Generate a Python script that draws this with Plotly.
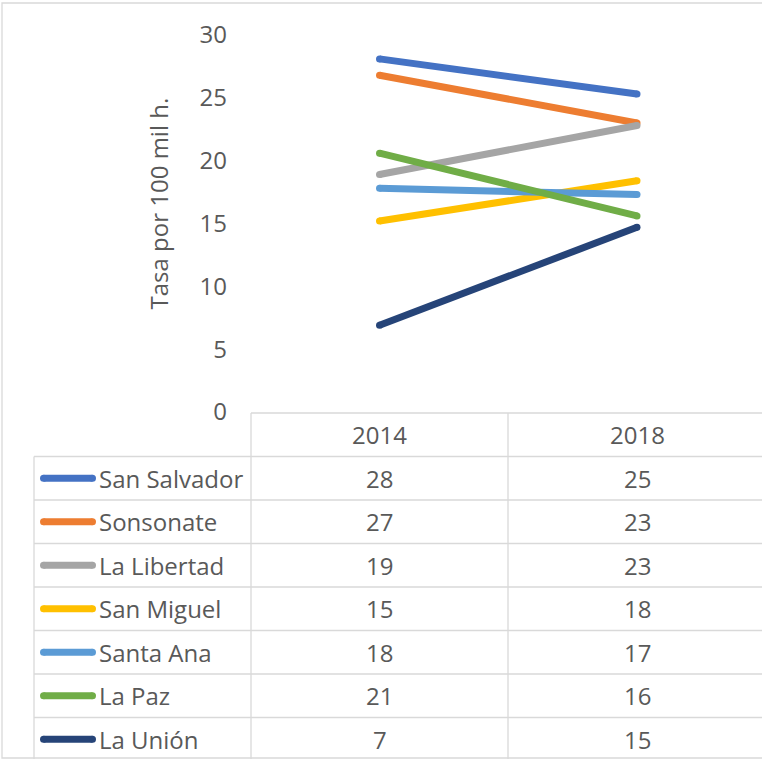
import plotly.graph_objects as go

# ---------------- data ----------------
years = ["2014", "2018"]
departments = ["San Salvador", "Sonsonate", "La Libertad", "San Miguel",
               "Santa Ana", "La Paz", "La Unión"]
rate_2014 = [28.1, 26.8, 18.9, 15.2, 17.8, 20.6, 6.9]
rate_2018 = [25.3, 23.0, 22.8, 18.4, 17.3, 15.6, 14.7]
colors = ["#4472C4", "#ED7D31", "#A5A5A5", "#FFC000", "#5B9BD5", "#70AD47", "#264478"]
y_ticks = [0, 5, 10, 15, 20, 25, 30]
y_title = "Tasa por 100 mil h."

# ---------------- layout constants (pixels) ----------------
W, H = 762, 759
FONT = "Open Sans"
TXT = "#595959"
GRID = "#D9D9D9"
FS = 24

plot_left, plot_top, plot_bottom = 251, 35, 412
col_div = 508
col_right = 766
table_top = 413
row_h = 43.5
table_left = 34
key_x0, key_x1, text_x = 40, 96, 97
LW = 7


def px(x):
    return x / W


def py(y):
    return 1 - y / H


fig = go.Figure()

for name, a, b, c in zip(departments, rate_2014, rate_2018, colors):
    fig.add_trace(go.Scatter(
        x=years, y=[a, b], name=name, mode="lines+markers",
        line=dict(color=c, width=LW),
        marker=dict(color=c, size=LW, line=dict(width=0)),
        showlegend=False, hoverinfo="skip",
    ))

shapes = []
annotations = []

# outer chart border
shapes.append(dict(type="rect", xref="paper", yref="paper",
                   x0=px(2), x1=px(W + 10), y0=py(3), y1=py(758),
                   line=dict(color=GRID, width=1.3)))

# table lines
n = len(departments)
row_lines = [table_top + row_h * (i + 1) for i in range(n + 1)]
shapes.append(dict(type="line", xref="paper", yref="paper",
                   x0=px(plot_left), x1=px(col_right + 10), y0=py(table_top), y1=py(table_top),
                   line=dict(color=GRID, width=1.3)))
for yl in row_lines:
    shapes.append(dict(type="line", xref="paper", yref="paper",
                       x0=px(table_left), x1=px(col_right + 10), y0=py(yl), y1=py(yl),
                       line=dict(color=GRID, width=1.3)))
for xl in (plot_left, col_div):
    shapes.append(dict(type="line", xref="paper", yref="paper",
                       x0=px(xl), x1=px(xl), y0=py(table_top), y1=py(row_lines[-1]),
                       line=dict(color=GRID, width=1.3)))
shapes.append(dict(type="line", xref="paper", yref="paper",
                   x0=px(table_left), x1=px(table_left), y0=py(row_lines[0]), y1=py(row_lines[-1]),
                   line=dict(color=GRID, width=1.3)))

# header texts
col_centers = [(plot_left + col_div) / 2, (col_div + col_right) / 2]
for yr, cx in zip(years, col_centers):
    annotations.append(dict(text=yr, x=px(cx), y=py(table_top + row_h / 2),
                            xref="paper", yref="paper", showarrow=False,
                            xanchor="center", yanchor="middle",
                            font=dict(family=FONT, size=FS, color=TXT)))

# rows
for i, (name, a, b, c) in enumerate(zip(departments, rate_2014, rate_2018, colors)):
    cy = row_lines[i] + row_h / 2
    shapes.append(dict(type="line", xref="paper", yref="paper",
                       x0=px(key_x0 + LW / 2), x1=px(key_x1 - LW / 2), y0=py(cy), y1=py(cy),
                       line=dict(color=c, width=LW)))
    for ex in (key_x0 + LW / 2, key_x1 - LW / 2):
        shapes.append(dict(type="circle", xref="paper", yref="paper",
                           x0=px(ex - LW / 2), x1=px(ex + LW / 2),
                           y0=py(cy - LW / 2), y1=py(cy + LW / 2),
                           fillcolor=c, line=dict(width=0)))
    annotations.append(dict(text=name, x=px(text_x), y=py(cy),
                            xref="paper", yref="paper", showarrow=False,
                            xanchor="left", yanchor="middle",
                            font=dict(family=FONT, size=FS, color=TXT)))
    for v, cx in zip((a, b), col_centers):
        annotations.append(dict(text=f"{v:.0f}", x=px(cx), y=py(cy),
                                xref="paper", yref="paper", showarrow=False,
                                xanchor="center", yanchor="middle",
                                font=dict(family=FONT, size=FS, color=TXT)))

# y-axis title
annotations.append(dict(text=y_title, x=px(158), y=py((97 + 310) / 2),
                        xref="paper", yref="paper", showarrow=False, textangle=-90,
                        xanchor="center", yanchor="middle",
                        font=dict(family=FONT, size=FS, color=TXT)))

cat_w = col_centers[1] - col_centers[0]
x0_range = (plot_left - col_centers[0]) / cat_w
x1_range = (W - col_centers[0]) / cat_w

fig.update_layout(
    width=W, height=H,
    margin=dict(l=0, r=0, t=0, b=0, autoexpand=False),
    paper_bgcolor="white", plot_bgcolor="white",
    showlegend=False,
    xaxis=dict(type="category", domain=[px(plot_left), 1], range=[x0_range, x1_range],
               showticklabels=False, showgrid=False, zeroline=False, showline=False,
               ticks="", fixedrange=True, automargin=False),
    yaxis=dict(domain=[py(plot_bottom), py(plot_top)], range=[0, 30],
               tickvals=y_ticks, ticktext=[str(t) for t in y_ticks],
               showgrid=False, zeroline=False, showline=False, ticks="",
               ticklabelstandoff=23, automargin=False,
               tickfont=dict(family=FONT, size=FS, color=TXT), fixedrange=True),
    shapes=shapes,
    annotations=annotations,
    font=dict(family=FONT, color=TXT),
)

fig.write_html(
    "out.html",
    config={"displayModeBar": False},
    post_script="document.body.style.margin='0';document.body.style.overflow='hidden';",
)
